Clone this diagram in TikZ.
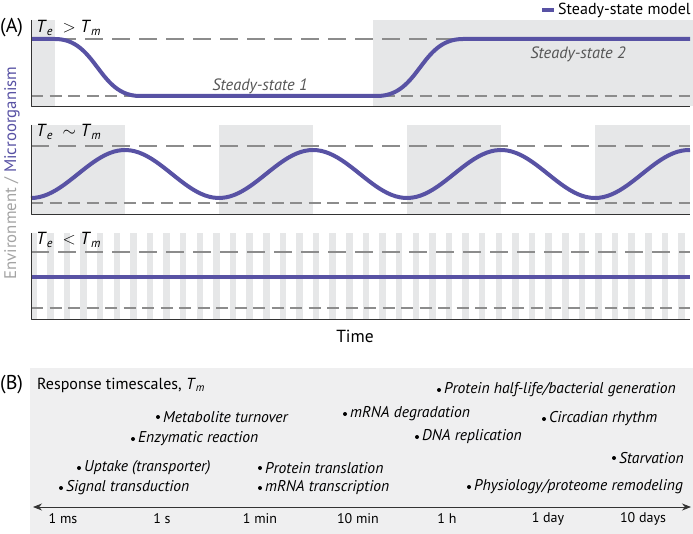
\documentclass[tikz,border=0pt]{standalone}
\usepackage{fontspec}
\setmainfont{PT Sans}
\usetikzlibrary{arrows.meta}
\definecolor{ssblue}{RGB}{88,82,164}
\definecolor{shadegray}{RGB}{230,231,232}
\definecolor{boxgray}{RGB}{239,239,240}
\definecolor{dashgray}{RGB}{140,140,140}
\definecolor{labelgray}{RGB}{85,85,85}
\begin{document}
\begin{tikzpicture}[x=1pt, y=-1pt, line join=round,
    model/.style={ssblue, line width=4pt},
    hiline/.style={dashgray, line width=1.1pt, dash pattern=on 18pt off 9pt},
    loline/.style={dashgray, line width=1.1pt, dash pattern=on 12pt off 6.5pt},
    frame/.style={black!80, line width=0.8pt},
    shade/.style={fill=shadegray},
    cond/.style={anchor=west, inner sep=0pt, font=\fontsize{17.5}{19}\selectfont},
    panel/.style={anchor=west, inner sep=0pt, font=\fontsize{20}{22}\selectfont},
    state/.style={inner sep=0pt, text=labelgray, font=\itshape\fontsize{16.4}{18}\selectfont},
    item/.style={anchor=west, inner sep=0pt, xshift=5pt, font=\itshape\fontsize{15.6}{17}\selectfont},
    tick/.style={inner sep=0pt, font=\fontsize{14}{16}\selectfont}]
    \useasboundingbox (0,0) rectangle (693,534);
    % panel A, top: slow environment
    \fill[shade] (31,20) rectangle (55,106);
    \fill[shade] (373,20) rectangle (693,106);
    \draw[hiline] (31,39) -- (690,39);
    \draw[loline] (31,96) -- (690,96);
    \draw[model] (31,39) -- (55,39) .. controls (97,39) and (98,96) .. (140,96)
        -- (377,96) .. controls (420,96) and (420,39) .. (463,39) -- (690,39);
    \draw[frame] (31,20) -- (31,106) -- (690,106);
    \node[panel] (A) at (0,28) {(A)};
    \node[cond] (slow) at (36,28) {\textit{T}\textsubscript{\textit{e}}\ \ $>$ \textit{T}\textsubscript{\textit{m}}};
    \node[state] (ss1) at (260,86) {Steady-state 1};
    \node[state] (ss2) at (578,54) {Steady-state 2};
    \coordinate (legL) at (542,10);
    \coordinate (legR) at (554,10);
    \draw[model] (legL) -- (legR);
    \node[anchor=west, inner sep=0pt, font=\fontsize{16}{18}\selectfont] (leg) at (558,10) {Steady-state model};
    % panel A, middle: comparable timescales
    \fill[shade] (31,125) rectangle (125,214);
    \fill[shade] (219,125) rectangle (313,214);
    \fill[shade] (407,125) rectangle (501,214);
    \fill[shade] (595,125) rectangle (690,214);
    \draw[hiline] (31,146) -- (690,146);
    \draw[loline] (31,203) -- (690,203);
    \draw[model] plot[domain=31:690, samples=160] (\x, {174+24*cos(1.91489*(\x-31))});
    \draw[frame] (31,125) -- (31,214) -- (690,214);
    \node[cond] (mid) at (36,132) {\textit{T}\textsubscript{\textit{e}}\ \ $\sim$ \textit{T}\textsubscript{\textit{m}}};
    % panel A, bottom: fast environment
    \foreach \i in {0,...,39}
        \fill[shade] ({30.5+16.61*\i},233) rectangle +(6.5,86);
    \draw[hiline] (31,252) -- (690,252);
    \draw[loline] (31,308) -- (690,308);
    \draw[model] (31,277) -- (690,277);
    \draw[frame] (31,233) -- (31,319) -- (690,319);
    \node[cond] (fast) at (36,240) {\textit{T}\textsubscript{\textit{e}}\ \ $<$ \textit{T}\textsubscript{\textit{m}}};
    \node[rotate=90, inner sep=0pt, font=\fontsize{16.8}{18}\selectfont] (ylab) at (12,173)
        {{\color{dashgray!80}Environment /} {\color{ssblue}Microorganism}};
    \node[inner sep=0pt, font=\fontsize{17.5}{19}\selectfont] (time) at (355,336) {Time};
    % panel B: response timescales
    \fill[boxgray] (30,368) rectangle (693,534);
    \node[panel] (B) at (0,385) {(B)};
    \node[anchor=west, inner sep=0pt, font=\fontsize{16}{18}\selectfont] (resp) at (37,385)
        {Response timescales, \textit{T}\textsubscript{\textit{m}}};
    \coordinate (axL) at (33,507);
    \coordinate (axR) at (691,507);
    \draw[frame, {Stealth[length=9pt, width=7pt]}-{Stealth[length=9pt, width=7pt]}] (axL) -- (axR);
    \node[tick] (ms) at (63,519) {1 ms};
    \node[tick] (sec) at (162,519) {1 s};
    \node[tick] (min) at (260,519) {1 min};
    \node[tick] (tenmin) at (358,519) {10 min};
    \node[tick] (hour) at (447,519) {1 h};
    \node[tick] (day) at (548,519) {1 day};
    \node[tick] (tendays) at (643,519) {10 days};
    \fill (61,488) circle (2pt);  \node[item] (sig) at (61,488) {Signal transduction};
    \fill (79,468) circle (2pt);  \node[item] (upt) at (79,468) {Uptake (transporter)};
    \fill (133,439) circle (2pt); \node[item] (enz) at (133,439) {Enzymatic reaction};
    \fill (158,417) circle (2pt); \node[item] (met) at (158,417) {Metabolite turnover};
    \fill (260,468) circle (2pt); \node[item] (ptr) at (260,468) {Protein translation};
    \fill (260,488) circle (2pt); \node[item] (mtr) at (260,488) {mRNA transcription};
    \fill (345,414) circle (2pt); \node[item] (mdeg) at (345,414) {mRNA degradation};
    \fill (439,390) circle (2pt); \node[item] (phl) at (439,390) {Protein half-life/bacterial generation};
    \fill (417,437) circle (2pt); \node[item] (dna) at (417,437) {DNA replication};
    \fill (544,419) circle (2pt); \node[item] (circ) at (544,419) {Circadian rhythm};
    \fill (614,458) circle (2pt); \node[item] (starv) at (614,458) {Starvation};
    \fill (469,487) circle (2pt); \node[item] (phys) at (469,487) {Physiology/proteome remodeling};
\end{tikzpicture}
\end{document}
